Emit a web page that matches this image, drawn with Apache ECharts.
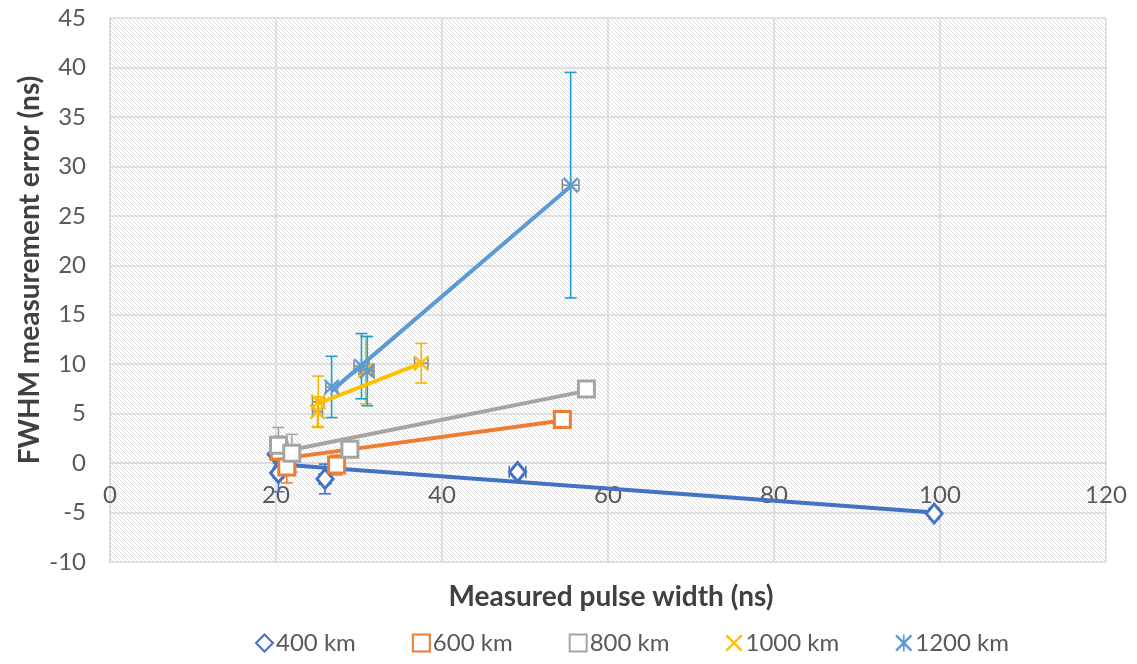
<!DOCTYPE html>
<html>
<head>
<meta charset="utf-8">
<script src="https://cdn.jsdelivr.net/npm/echarts@6/dist/echarts.min.js"></script>
<style>
  html, body { margin: 0; padding: 0; background: #ffffff; }
  #chart { width: 1137px; height: 664px; }
</style>
</head>
<body>
<div id="chart"></div>
<script>
// Pulse-width error measurements per altitude: x = measured width (ns),
// y = FWHM error (ns), ey / ex = error bar half-lengths.
const x400 = [20.0, 20.3, 25.9, 49.1, 99.3];
const y400 = [0.9, -1.0, -1.6, -0.9, -5.1];
const ey400 = [0.6, 1.9, 1.5, 0.4, 0.4];
const ex400 = [0.7, 0.6, 0.7, 1.0, 0.6];

const x600 = [20.4, 21.3, 27.3, 54.5];
const y600 = [1.2, -0.4, -0.2, 4.4];
const ey600 = [1.5, 1.6, 1.0, 0.3];
const ex600 = [0.6, 0.7, 0.7, 0.5];

const x800 = [20.3, 21.9, 28.9, 57.4];
const y800 = [1.8, 1.0, 1.4, 7.5];
const ey800 = [1.8, 1.9, 0.5, 0.3];
const ex800 = [0.7, 0.9, 0.6, 0.5];

const x1000 = [25.0, 25.1, 30.8, 37.5];
const y1000 = [5.2, 6.2, 9.4, 10.1];
const ey1000 = [1.5, 2.6, 3.4, 2.0];
const ex1000 = [0.6, 0.7, 0.8, 0.8];

const x1200 = [26.7, 30.3, 31.0, 55.5];
const y1200 = [7.7, 9.8, 9.3, 28.1];
const ey1200 = [3.1, 3.3, 3.5, 11.4];
const ex1200 = [0.7, 0.9, 0.8, 1.0];

// Linear trend line end points for each altitude
const trend400 = [[19.8, -0.1], [99.3, -5.0]];
const trend600 = [[20.3, 0.4], [54.5, 4.3]];
const trend800 = [[19.8, 1.0], [57.4, 7.3]];
const trend1000 = [[25.0, 6.0], [37.5, 10.1]];
const trend1200 = [[26.7, 7.3], [55.5, 28.0]];

const seriesNames = ['400 km', '600 km', '800 km', '1000 km', '1200 km'];
const xRange = [0, 120];
const yRange = [-10, 45];

const FONT = 'Lato';
const TEXT = '#595959';

const GRID = { left: 110, right: 31, top: 18, bottom: 102 };
const PLOT_H = 664 - GRID.top - GRID.bottom;
// distance from the bottom of the plot up to the y = 0 line
const ZERO_LIFT = PLOT_H * (0 - yRange[0]) / (yRange[1] - yRange[0]);

const X_SYMBOL = 'path://M0,2 L2,0 L10,8 L18,0 L20,2 L12,10 L20,18 L18,20 L10,12 L2,20 L0,18 L8,10 Z';
const STAR_SYMBOL = 'path://M0,2 L2,0 L10,8 L18,0 L20,2 L12,10 L20,18 L18,20 L10,12 L2,20 L0,18 L8,10 Z M9,0 L11,0 L11,20 L9,20 Z';

const defs = [
  { name: seriesNames[0], xs: x400, ys: y400, ey: ey400, ex: ex400, trend: trend400,
    color: '#4472C4', barColor: '#4472C4', hBarColor: '#4472C4', symbol: 'diamond', size: [16, 19], hollow: true },
  { name: seriesNames[1], xs: x600, ys: y600, ey: ey600, ex: ex600, trend: trend600,
    color: '#ED7D31', barColor: '#ED7D31', hBarColor: '#ED7D31', symbol: 'rect', size: 16, hollow: true },
  { name: seriesNames[2], xs: x800, ys: y800, ey: ey800, ex: ex800, trend: trend800,
    color: '#A5A5A5', barColor: '#A5A5A5', hBarColor: '#8C8C8C', symbol: 'rect', size: 16, hollow: true },
  { name: seriesNames[3], xs: x1000, ys: y1000, ey: ey1000, ex: ex1000, trend: trend1000,
    color: '#FFC000', barColor: '#F2B800', hBarColor: '#8C8C8C', symbol: X_SYMBOL, size: 16, hollow: false },
  { name: seriesNames[4], xs: x1200, ys: y1200, ey: ey1200, ex: ex1200, trend: trend1200,
    color: '#5B9BD5', barColor: '#1F9FD0', hBarColor: '#8C8C8C', symbol: STAR_SYMBOL, size: 16, hollow: false }
];

// Light diagonal hatch for the plot area
function hatchPattern() {
  const c = document.createElement('canvas');
  c.width = 4; c.height = 4;
  const g = c.getContext('2d');
  g.fillStyle = '#ffffff';
  g.fillRect(0, 0, 4, 4);
  g.strokeStyle = '#dedede';
  g.lineWidth = 1;
  g.beginPath();
  g.moveTo(-1, -1); g.lineTo(5, 5);
  g.stroke();
  return c;
}

function errorBarRenderer(vColor, hColor) {
  return function (params, api) {
    const x = api.value(0), y = api.value(1), ey = api.value(2), ex = api.value(3);
    const top = api.coord([x, y + ey]);
    const bot = api.coord([x, y - ey]);
    const lft = api.coord([x - ex, y]);
    const rgt = api.coord([x + ex, y]);
    const cap = 6;
    const vStyle = { stroke: vColor, lineWidth: 1.6 };
    const hStyle = { stroke: hColor, lineWidth: 1.6 };
    return {
      type: 'group',
      children: [
        { type: 'line', shape: { x1: top[0], y1: top[1], x2: bot[0], y2: bot[1] }, style: vStyle },
        { type: 'line', shape: { x1: top[0] - cap, y1: top[1], x2: top[0] + cap, y2: top[1] }, style: vStyle },
        { type: 'line', shape: { x1: bot[0] - cap, y1: bot[1], x2: bot[0] + cap, y2: bot[1] }, style: vStyle },
        { type: 'line', shape: { x1: lft[0], y1: lft[1], x2: rgt[0], y2: rgt[1] }, style: hStyle },
        { type: 'line', shape: { x1: lft[0], y1: lft[1] - cap, x2: lft[0], y2: lft[1] + cap }, style: hStyle },
        { type: 'line', shape: { x1: rgt[0], y1: rgt[1] - cap, x2: rgt[0], y2: rgt[1] + cap }, style: hStyle }
      ]
    };
  };
}

const series = [];
defs.forEach(function (d, i) {
  const pts = d.xs.map(function (x, k) { return [x, d.ys[k], d.ey[k], d.ex[k]]; });
  series.push({
    name: d.name + ' error',
    type: 'custom',
    renderItem: errorBarRenderer(d.barColor, d.hBarColor),
    data: pts,
    encode: { x: 0, y: 1 },
    z: 2 + i * 0.01,
    silent: true
  });
  series.push({
    name: d.name + ' trend',
    type: 'line',
    data: d.trend,
    showSymbol: false,
    symbol: 'none',
    lineStyle: { color: d.color, width: 4 },
    z: 3 + i * 0.01,
    silent: true
  });
  series.push({
    name: d.name,
    type: 'scatter',
    data: pts.map(function (p) { return [p[0], p[1]]; }),
    symbol: d.symbol,
    symbolSize: d.size,
    itemStyle: d.hollow
      ? { color: '#ffffff', borderColor: d.color, borderWidth: 3, opacity: 1 }
      : { color: d.color, borderWidth: 0, opacity: 1 },
    z: 4 + i * 0.01
  });
});

const chart = echarts.init(document.getElementById('chart'), null, { renderer: 'canvas' });
chart.setOption({
  animation: false,
  backgroundColor: '#ffffff',
  textStyle: { fontFamily: FONT },
  grid: {
    left: GRID.left, right: GRID.right, top: GRID.top, bottom: GRID.bottom,
    show: true,
    backgroundColor: { image: hatchPattern(), repeat: 'repeat' },
    borderWidth: 0
  },
  xAxis: {
    type: 'value',
    min: xRange[0], max: xRange[1], interval: 20,
    offset: -ZERO_LIFT,
    axisLine: { show: true, onZero: false, lineStyle: { color: '#D9D9D9', width: 1.5 } },
    axisTick: { show: false },
    splitLine: { show: true, lineStyle: { color: '#D9D9D9', width: 1.5 } },
    axisLabel: { fontSize: 24, color: TEXT, fontFamily: FONT, margin: 20 }
  },
  yAxis: {
    type: 'value',
    min: yRange[0], max: yRange[1], interval: 5,
    axisLine: { show: true, onZero: false, lineStyle: { color: '#D9D9D9', width: 1.5 } },
    axisTick: { show: false },
    splitLine: { show: true, lineStyle: { color: '#D9D9D9', width: 1.5 } },
    axisLabel: { fontSize: 24, color: TEXT, fontFamily: FONT, margin: 24 }
  },
  legend: {
    data: seriesNames,
    bottom: 4,
    left: 250,
    itemWidth: 17,
    itemHeight: 17,
    itemGap: 56,
    textStyle: { fontSize: 24, color: TEXT, fontFamily: FONT, padding: [0, 0, 0, -2] }
  },
  graphic: [
    {
      type: 'text',
      x: 611, y: 597,
      style: { text: 'Measured pulse width (ns)', font: 'bold 28px ' + FONT, fill: '#404040',
               align: 'center', verticalAlign: 'middle' }
    },
    {
      type: 'text',
      x: 30, y: 270,
      rotation: Math.PI / 2,
      style: { text: 'FWHM measurement error (ns)', font: 'bold 28px ' + FONT, fill: '#404040',
               align: 'center', verticalAlign: 'middle' }
    }
  ],
  series: series
});
</script>
</body>
</html>
